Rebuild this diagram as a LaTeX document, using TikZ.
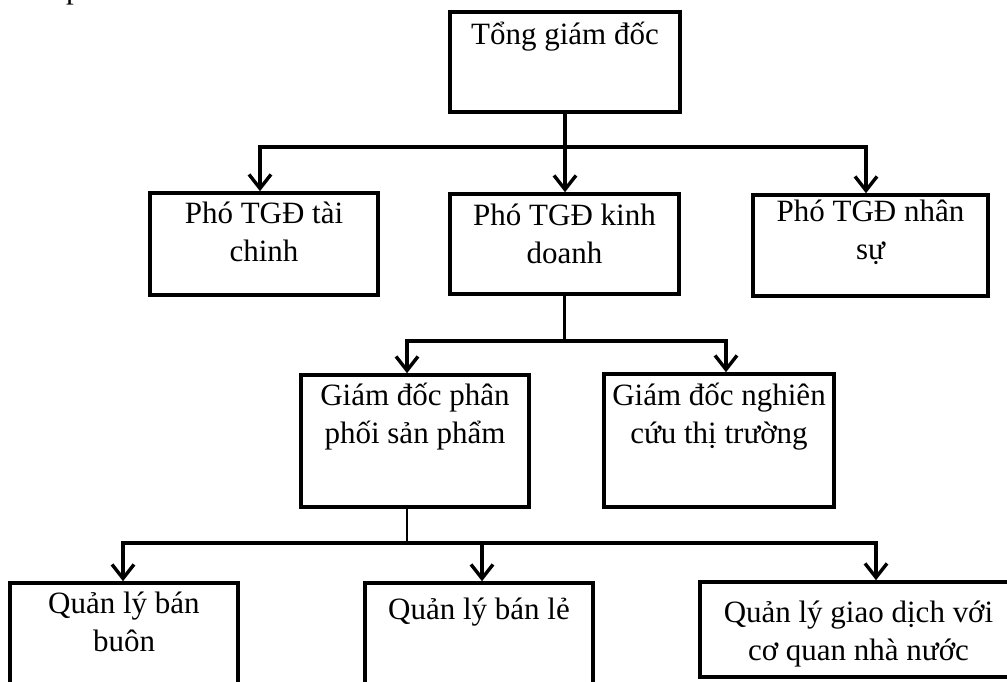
\documentclass[tikz,border=0pt]{standalone}
\usepackage{fontspec}
\setmainfont{Liberation Serif}
\usetikzlibrary{arrows.meta}
\begin{document}
\begin{tikzpicture}[x=1pt,y=-1pt,
  orgbox/.style={draw, line width=3.6pt, inner sep=0pt},
  lbl/.style={inner sep=0pt, font=\fontsize{31}{38}\selectfont, anchor=base},
  bus/.style={line width=3.4pt, line cap=rect},
  stem/.style={line width=2.3pt},
  down/.style={line width=3.4pt, -{Straight Barb[length=14pt,width=22pt]}}
]
\useasboundingbox (0,0) rectangle (1007,682);
\clip (0,0) rectangle (1007,682);

% clipped remnant of the line above the chart
\node[lbl, anchor=base west] (frag) at (66,-1) {p};

% boxes
\node[orgbox, minimum width=230pt, minimum height=100pt] (top) at (565,62) {};
\node[orgbox, minimum width=228pt, minimum height=102pt] (b1) at (264,244) {};
\node[orgbox, minimum width=229pt, minimum height=100pt] (b2) at (564.5,244) {};
\node[orgbox, minimum width=235pt, minimum height=101pt] (b3) at (870.5,245.5) {};
\node[orgbox, minimum width=228pt, minimum height=132pt] (b4) at (415,441) {};
\node[orgbox, minimum width=230pt, minimum height=133pt] (b5) at (719,440.5) {};
\node[orgbox, minimum width=228pt, minimum height=117pt] (b6) at (124,641.5) {};
\node[orgbox, minimum width=228pt, minimum height=117pt] (b7) at (479,641.5) {};
\node[orgbox, minimum width=317pt, minimum height=95pt] (b8) at (858.5,629.5) {};

% box texts
\node[lbl] (ttop) at (565,45) {Tổng giám đốc};
\node[lbl] (t1) at (264,223) {\parbox[t]{228pt}{\centering Phó TGĐ tài\\chinh}};
\node[lbl] (t2) at (564.5,225) {\parbox[t]{229pt}{\centering Phó TGĐ kinh\\doanh}};
\node[lbl] (t3) at (870.5,222) {\parbox[t]{235pt}{\centering Phó TGĐ nhân\\sự}};
\node[lbl] (t4) at (415,405) {\parbox[t]{228pt}{\centering Giám đốc phân\\phối sản phẩm}};
\node[lbl] (t5) at (719,405) {\parbox[t]{240pt}{\centering Giám đốc nghiên\\cứu thị trường}};
\node[lbl] (t6) at (124,613) {\parbox[t]{228pt}{\centering Quản lý bán\\buôn}};
\node[lbl] (t7) at (479,619) {Quản lý bán lẻ};
\node[lbl] (t8) at (858.5,622) {\parbox[t]{317pt}{\centering Quản lý giao dịch với\\cơ quan nhà nước}};

% level 1 connectors
\coordinate (L1) at (260,147);
\coordinate (R1) at (866,147);
\draw[bus] (L1) -- (R1);
\draw[down] (top.south) -- (top.south |- b2.north);
\draw[down] (L1) -- (L1 |- b1.north);
\draw[down] (R1) -- (R1 |- b3.north);

% level 2 connectors
\coordinate (L2) at (407,341);
\coordinate (R2) at (726,341);
\draw[stem] (b2.south) -- (b2.south |- L2);
\draw[bus] (L2) -- (R2);
\draw[down] (L2) -- (L2 |- b4.north);
\draw[down] (R2) -- (R2 |- b5.north);

% level 3 connectors
\coordinate (S3) at (407,543);
\coordinate (L3) at (123,543);
\coordinate (M3) at (482,543);
\coordinate (R3) at (876,543);
\draw[stem] (S3 |- b4.south) -- (S3);
\draw[bus] (L3) -- (R3);
\draw[down] (L3) -- (L3 |- b6.north);
\draw[down] (M3) -- (M3 |- b7.north);
\draw[down] (R3) -- (R3 |- b8.north);
\end{tikzpicture}
\end{document}
